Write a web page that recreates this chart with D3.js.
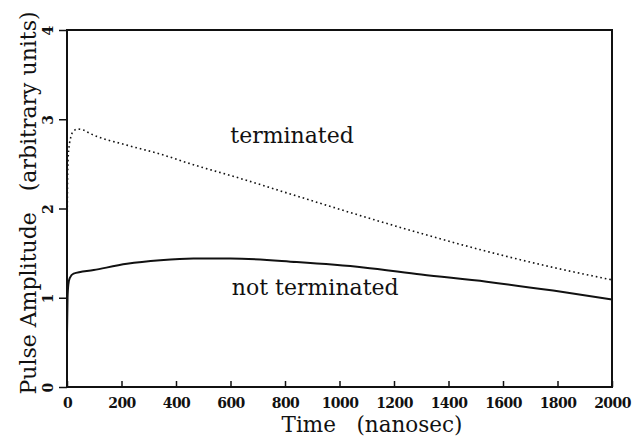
<!DOCTYPE html>
<html>
<head>
<meta charset="utf-8">
<script src="https://cdn.jsdelivr.net/npm/d3@7"></script>
<style>
body { margin: 0; background: #fff; }
svg text { font-family: "DejaVu Serif", serif; fill: #111; }
</style>
</head>
<body>
<svg class="canvas" width="634" height="438"></svg>
<script>
var width = 634
var height = 438
var margin = { left: 67, right: 22, top: 30, bottom: 51 }

// values (time in ns, amplitude arbitrary)
var terminatedT = [0, 2, 4, 8, 14, 25, 40, 60, 85, 220, 342, 464, 600, 843, 1088, 1300, 1540, 1784, 2000]
var terminatedV = [1.6, 2.3, 2.55, 2.7, 2.8, 2.87, 2.89, 2.88, 2.84, 2.71, 2.61, 2.49, 2.37, 2.14, 1.91, 1.72, 1.52, 1.34, 1.20]
var notTermT = [0, 2, 5, 10, 24, 98, 220, 342, 464, 600, 843, 1088, 1300, 1540, 1784, 2000]
var notTermV = [0.6, 1.0, 1.15, 1.22, 1.27, 1.31, 1.38, 1.42, 1.44, 1.44, 1.40, 1.34, 1.26, 1.18, 1.08, 0.98]
var xTicks = [0, 200, 400, 600, 800, 1000, 1200, 1400, 1600, 1800, 2000]
var yTicks = [0, 1, 2, 3, 4]

var svg = d3.select('.canvas')
var x = d3.scaleLinear().domain([0, 2000]).range([margin.left, width - margin.right])
var y = d3.scaleLinear().domain([0, 4]).range([height - margin.bottom, margin.top])

var line = d3.line()
    .x(d => x(d[0]))
    .y(d => y(d[1]))
    .curve(d3.curveMonotoneX)

svg.append('path')
    .datum(d3.zip(terminatedT, terminatedV))
    .attr('d', line)
    .attr('fill', 'none')
    .attr('stroke', '#111')
    .attr('stroke-width', 1.6)
    .attr('stroke-dasharray', '1.6,3')

svg.append('path')
    .datum(d3.zip(notTermT, notTermV))
    .attr('d', line)
    .attr('fill', 'none')
    .attr('stroke', '#111')
    .attr('stroke-width', 2)

// frame
svg.append('rect')
    .attr('x', x(0)).attr('y', y(4))
    .attr('width', x(2000) - x(0)).attr('height', y(0) - y(4))
    .attr('fill', 'none').attr('stroke', '#111').attr('stroke-width', 2)

var xAxis = svg.append('g')
    .attr('transform', 'translate(0,' + y(0) + ')')
    .call(d3.axisBottom(x).tickValues(xTicks).tickSize(-6).tickPadding(11).tickFormat(d3.format('d')))
xAxis.select('.domain').remove()
xAxis.selectAll('line').attr('stroke', '#111').attr('stroke-width', 1.5)
xAxis.selectAll('text')
    .style('font-family', '"DejaVu Serif", serif')
    .style('font-weight', 'bold')
    .style('font-size', '14px')
    .attr('letter-spacing', '-0.6')
    .attr('fill', '#111')

var yAxis = svg.append('g')
    .attr('transform', 'translate(' + x(0) + ',0)')
    .call(d3.axisLeft(y).tickValues(yTicks).tickSize(8).tickFormat(d3.format('d')))
yAxis.select('.domain').remove()
yAxis.selectAll('line').attr('stroke', '#111').attr('stroke-width', 1.5)
yAxis.selectAll('text')
    .attr('x', 0).attr('dy', null)
    .attr('text-anchor', 'middle')
    .attr('transform', 'translate(-19,0) rotate(-90)')
    .style('font-family', '"DejaVu Serif", serif')
    .style('font-weight', 'bold')
    .style('font-size', '14px')
    .attr('fill', '#111')
    .attr('dominant-baseline', 'central')

svg.append('text')
    .attr('transform', 'translate(' + 36 + ',' + 203 + ') rotate(-90)')
    .attr('text-anchor', 'middle')
    .style('font-size', '22px')
    .attr('xml:space', 'preserve')
    .text('Pulse Amplitude   (arbitrary units)')

svg.append('text')
    .attr('x', 372).attr('y', 432)
    .attr('text-anchor', 'middle')
    .style('font-size', '21.5px')
    .attr('xml:space', 'preserve')
    .text('Time   (nanosec)')

svg.append('text')
    .attr('x', x(826)).attr('y', y(2.73))
    .attr('text-anchor', 'middle')
    .style('font-size', '22px')
    .text('terminated')

svg.append('text')
    .attr('x', x(911)).attr('y', y(1.03))
    .attr('text-anchor', 'middle')
    .style('font-size', '22px')
    .text('not terminated')
</script>
</body>
</html>
